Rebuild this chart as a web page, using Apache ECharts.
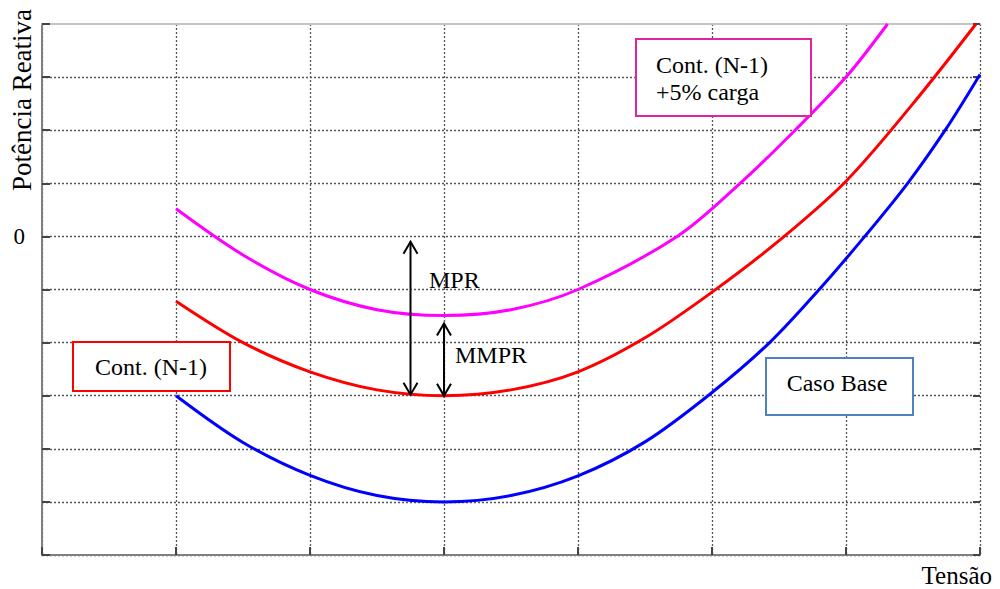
<!DOCTYPE html>
<html>
<head>
<meta charset="utf-8">
<script src="https://cdn.jsdelivr.net/npm/echarts@6/dist/echarts.min.js"></script>
<style>
  html, body { margin: 0; padding: 0; background: #fff; }
  #chart { width: 1000px; height: 589px; }
</style>
</head>
<body>
<div id="chart"></div>
<script>
// Reactive power (Potência Reativa) vs voltage (Tensão) curves
const xBase = [1, 1.5, 2, 2.5, 3, 3.5, 4, 4.5, 5, 5.43, 5.8, 6.14, 6.46, 6.74, 7];
const casoBase = [-3.0, -3.88, -4.5, -4.88, -5.0, -4.88, -4.51, -3.87, -2.94, -2.0, -1.0, 0.0, 1.0, 2.0, 3.05];

const xN1 = [1, 1.5, 2, 2.5, 3, 3.5, 4, 4.5, 5, 5.5, 6, 6.5, 6.97];
const contN1 = [-1.22, -2.0, -2.55, -2.89, -3.0, -2.89, -2.55, -1.91, -1.05, -0.08, 1.04, 2.5, 4.0];

const xCarga = [1, 1.5, 2, 2.5, 3, 3.5, 4, 4.74, 5.21, 5.62, 6.0, 6.31];
const contN1Carga = [0.52, -0.35, -1.0, -1.38, -1.49, -1.38, -1.0, 0.0, 1.0, 2.0, 3.0, 4.0];

// Margin arrows: [tensão, top, bottom]
const mprArrow = [2.75, -0.1, -2.98];
const mmprArrow = [3.0, -1.64, -3.0];

const yTickLabels = { 0: '0' };

const FONT = '"Liberation Serif", "Times New Roman", serif';
const SMOOTH = 0.33;

function pairs(xs, ys) { return xs.map((x, i) => [x, ys[i]]); }

const chart = echarts.init(document.getElementById('chart'), null, { renderer: 'svg' });

const gridLine = { show: true, lineStyle: { color: '#555', type: [2, 2], width: 1.3 } };

function arrowItem(params, api) {
  const x = api.value(0);
  const p1 = api.coord([x, api.value(1)]);
  const p2 = api.coord([x, api.value(2)]);
  const st = { stroke: '#000', lineWidth: 2, fill: null };
  return {
    type: 'group',
    children: [
      { type: 'line', shape: { x1: p1[0], y1: p1[1], x2: p2[0], y2: p2[1] }, style: st },
      { type: 'polyline', shape: { points: [[p1[0] - 7, p1[1] + 12], [p1[0], p1[1]], [p1[0] + 7, p1[1] + 12]] }, style: st },
      { type: 'polyline', shape: { points: [[p2[0] - 7, p2[1] - 12], [p2[0], p2[1]], [p2[0] + 7, p2[1] - 12]] }, style: st }
    ]
  };
}

const option = {
  backgroundColor: '#fff',
  animation: false,
  grid: { left: 42, right: 20, top: 24, bottom: 34, containLabel: false },
  xAxis: [{
    type: 'value', min: 0, max: 7, interval: 1,
    axisLine: { show: true, onZero: false, lineStyle: { color: '#808080', width: 2 } },
    axisTick: { show: true, inside: true, length: 8, lineStyle: { color: '#444', width: 2 } },
    axisLabel: { show: false },
    splitLine: gridLine
  }, {
    type: 'value', min: 0, max: 7, interval: 1, position: 'top',
    axisLine: { show: true, onZero: false, lineStyle: { color: '#c4c4c4', width: 2 } },
    axisTick: { show: false }, axisLabel: { show: false }, splitLine: { show: false }
  }],
  yAxis: [{
    type: 'value', min: -6, max: 4, interval: 1,
    axisLine: { show: true, onZero: false, lineStyle: { color: '#808080', width: 2 } },
    axisTick: { show: true, inside: true, length: 8, lineStyle: { color: '#444', width: 2 } },
    axisLabel: {
      show: true, margin: 17, fontSize: 23, fontFamily: FONT, color: '#000',
      formatter: v => (yTickLabels[v] !== undefined ? yTickLabels[v] : '')
    },
    splitLine: Object.assign({ showMaxLine: false }, gridLine)
  }, {
    type: 'value', min: -6, max: 4, interval: 1, position: 'right',
    axisLine: { show: false, onZero: false },
    axisTick: { show: true, inside: true, length: 7, lineStyle: { color: '#444', width: 2 } },
    axisLabel: { show: false }, splitLine: { show: false }
  }],
  series: [
    {
      name: 'Cont. (N-1) +5% carga', type: 'line', smooth: SMOOTH, symbol: 'none',
      data: pairs(xCarga, contN1Carga),
      lineStyle: { color: '#ff00ff', width: 3 }
    },
    {
      name: 'Cont. (N-1)', type: 'line', smooth: SMOOTH, symbol: 'none',
      data: pairs(xN1, contN1),
      lineStyle: { color: '#ff0000', width: 3 }
    },
    {
      name: 'Caso Base', type: 'line', smooth: SMOOTH, symbol: 'none',
      data: pairs(xBase, casoBase),
      lineStyle: { color: '#0000ff', width: 3 }
    },
    {
      name: 'margens', type: 'custom', renderItem: arrowItem,
      data: [mprArrow, mmprArrow], z: 5
    }
  ],
  graphic: [
    // axis titles
    { type: 'text', x: 22, y: 100, rotation: Math.PI / 2,
      style: { text: 'Potência Reativa', font: '27px ' + FONT, fill: '#000', align: 'center', verticalAlign: 'middle' } },
    { type: 'text', x: 992, y: 575,
      style: { text: 'Tensão', font: '25px ' + FONT, fill: '#000', align: 'right', verticalAlign: 'middle' } },
    // margin labels
    { type: 'text', x: 429, y: 280,
      style: { text: 'MPR', font: '24px ' + FONT, fill: '#000', align: 'left', verticalAlign: 'middle' } },
    { type: 'text', x: 455, y: 355,
      style: { text: 'MMPR', font: '24px ' + FONT, fill: '#000', align: 'left', verticalAlign: 'middle' } },
    // curve labels in boxes
    { type: 'rect', shape: { x: 636, y: 39, width: 175, height: 77 },
      style: { fill: '#fff', stroke: '#e0249c', lineWidth: 2 }, z: 10 },
    { type: 'text', x: 656, y: 65, z: 11,
      style: { text: 'Cont. (N-1)', font: '24px ' + FONT, fill: '#000', align: 'left', verticalAlign: 'middle' } },
    { type: 'text', x: 656, y: 92, z: 11,
      style: { text: '+5% carga', font: '24px ' + FONT, fill: '#000', align: 'left', verticalAlign: 'middle' } },
    { type: 'rect', shape: { x: 73, y: 342, width: 157, height: 49 },
      style: { fill: '#fff', stroke: '#ff0000', lineWidth: 2 }, z: 10 },
    { type: 'text', x: 151, y: 367, z: 11,
      style: { text: 'Cont. (N-1)', font: '24px ' + FONT, fill: '#000', align: 'center', verticalAlign: 'middle' } },
    { type: 'rect', shape: { x: 766, y: 358, width: 147, height: 57 },
      style: { fill: '#fff', stroke: '#4f81bd', lineWidth: 2 }, z: 10 },
    { type: 'text', x: 837, y: 383, z: 11,
      style: { text: 'Caso Base', font: '24px ' + FONT, fill: '#000', align: 'center', verticalAlign: 'middle' } }
  ]
};

chart.setOption(option);
</script>
</body>
</html>
